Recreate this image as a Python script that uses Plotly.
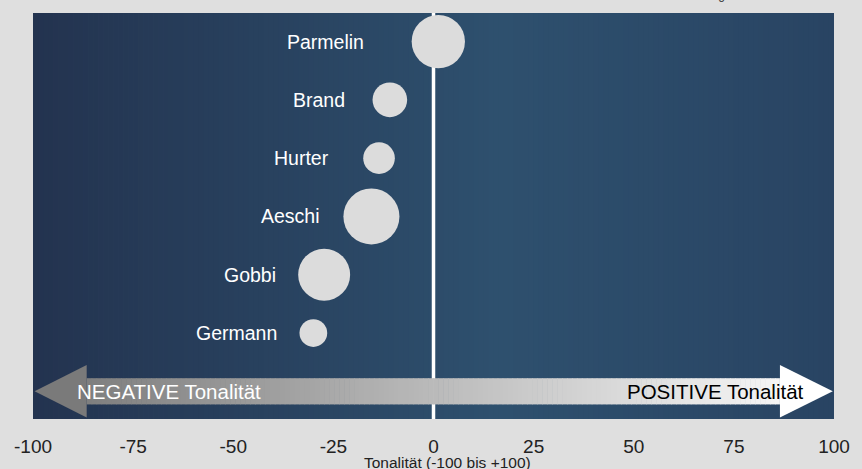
import plotly.graph_objects as go

# --- data -------------------------------------------------------------
names = ["Parmelin", "Brand", "Hurter", "Aeschi", "Gobbi", "Germann"]
tonality = [1.2, -10.9, -13.6, -15.5, -27.3, -30.0]
mentions = [284, 120, 100, 314, 270, 77]
x_ticks = [-100, -75, -50, -25, 0, 25, 50, 75, 100]
axis_title = "Tonalität (-100 bis +100)"
neg_label = "NEGATIVE Tonalität"
pos_label = "POSITIVE Tonalität"
note = "Kreisgrösse: Anzahl Artikel"

# --- style ------------------------------------------------------------
PAPER = "#dfdfdf"
BUBBLE = "#dcdcdc"
FONT = "Liberation Sans, Arial, sans-serif"
SIZEREF = 0.2
label_pad = [46, 26, 32, 21, 20, 20]          # gap between label and bubble edge (px)
BG_STOPS = [(0.0, (35, 51, 79)), (0.58, (46, 80, 110)), (1.0, (41, 68, 99))]
ARROW_FROM, ARROW_TO = (118, 118, 118), (255, 255, 255)

y_pos = list(range(len(names), 0, -1))
Y_RANGE = [-0.475, 6.49]
SHAFT = 0.225
HEAD = 0.45
HEAD_L, HEAD_R = -86.6, 86.5


def lerp(stops, t):
    for (t0, c0), (t1, c1) in zip(stops, stops[1:]):
        if t0 <= t <= t1:
            f = (t - t0) / (t1 - t0)
            return "rgb(%d,%d,%d)" % tuple(round(a + (b - a) * f) for a, b in zip(c0, c1))
    return "rgb(%d,%d,%d)" % stops[-1][1]


def diameter(v):
    return (2 * v / SIZEREF) ** 0.5


shapes = []

# background gradient of the plotting area
n_bg = 160
for i in range(n_bg):
    x0 = -100 + 200 * i / n_bg
    x1 = -100 + 200 * (i + 1) / n_bg + 0.2
    shapes.append(dict(type="rect", xref="x", yref="paper", x0=x0, x1=min(x1, 100),
                       y0=0, y1=1, line_width=0, layer="below",
                       fillcolor=lerp(BG_STOPS, (i + 0.5) / n_bg)))

# tonality arrow: gradient shaft plus two heads
arrow_stops = [(0.0, ARROW_FROM), (1.0, ARROW_TO)]
n_ar = 140
for i in range(n_ar):
    x0 = HEAD_L + (HEAD_R - HEAD_L) * i / n_ar
    x1 = HEAD_L + (HEAD_R - HEAD_L) * (i + 1) / n_ar + 0.15
    t = (x0 + 100) / 200
    shapes.append(dict(type="rect", xref="x", yref="y", x0=x0, x1=min(x1, HEAD_R),
                       y0=-SHAFT, y1=SHAFT, line_width=0, layer="below",
                       fillcolor=lerp(arrow_stops, t)))
shapes.append(dict(type="path", xref="x", yref="y", layer="below", line_width=0,
                   path=f"M {HEAD_L} {-HEAD} L -99.6 0 L {HEAD_L} {HEAD} Z",
                   fillcolor=lerp(arrow_stops, 0.03)))
shapes.append(dict(type="path", xref="x", yref="y", layer="below", line_width=0,
                   path=f"M {HEAD_R} {-HEAD} L 99.7 0 L {HEAD_R} {HEAD} Z",
                   fillcolor="#ffffff"))

# zero line
shapes.append(dict(type="line", xref="x", yref="paper", x0=0, x1=0, y0=0, y1=1,
                   line=dict(color="#ffffff", width=3.5), layer="below"))

fig = go.Figure()
fig.add_trace(go.Scatter(
    x=tonality, y=y_pos, mode="markers",
    marker=dict(size=mentions, sizemode="area", sizeref=SIZEREF,
                color=BUBBLE, line=dict(width=0), opacity=1),
    hoverinfo="skip", showlegend=False,
))

annotations = []
for name, x, y, v, pad in zip(names, tonality, y_pos, mentions, label_pad):
    annotations.append(dict(x=x, y=y, xref="x", yref="y", text=name, showarrow=False,
                            xanchor="right", yanchor="middle",
                            xshift=-(diameter(v) / 2 + pad),
                            font=dict(family=FONT, size=19.5, color="#ffffff")))

annotations += [
    dict(x=-89.6, y=0, xref="x", yref="y", text=neg_label, showarrow=False,
         xanchor="left", yanchor="middle",
         font=dict(family=FONT, size=20.5, color="#ffffff")),
    dict(x=93.0, y=0, xref="x", yref="y", text=pos_label, showarrow=False,
         xanchor="right", yanchor="middle",
         font=dict(family=FONT, size=20.5, color="#000000")),
    dict(x=0.518, y=-0.106, xref="paper", yref="paper", text=axis_title, showarrow=False,
         xanchor="center", yanchor="middle",
         font=dict(family=FONT, size=15.5, color="#222222")),
    dict(x=1.0, y=1.0, xref="paper", yref="paper", text=note, showarrow=False,
         xanchor="right", yanchor="bottom", xshift=1, yshift=9,
         font=dict(family=FONT, size=12, color="#333333")),
]

fig.update_layout(
    width=862, height=469,
    margin=dict(l=33, r=28, t=13, b=45),
    paper_bgcolor=PAPER, plot_bgcolor="rgba(0,0,0,0)",
    shapes=shapes, annotations=annotations,
    xaxis=dict(range=[-100, 100], tickvals=x_ticks, ticktext=[str(t) for t in x_ticks],
               showgrid=False, zeroline=False, showline=False,
               ticks="outside", ticklen=10, tickcolor="rgba(0,0,0,0)",
               tickfont=dict(family=FONT, size=19, color="#222222"), fixedrange=True),
    yaxis=dict(range=Y_RANGE, showgrid=False, zeroline=False, showline=False,
               showticklabels=False, fixedrange=True),
    font=dict(family=FONT),
)

fig.write_html("out.html")
